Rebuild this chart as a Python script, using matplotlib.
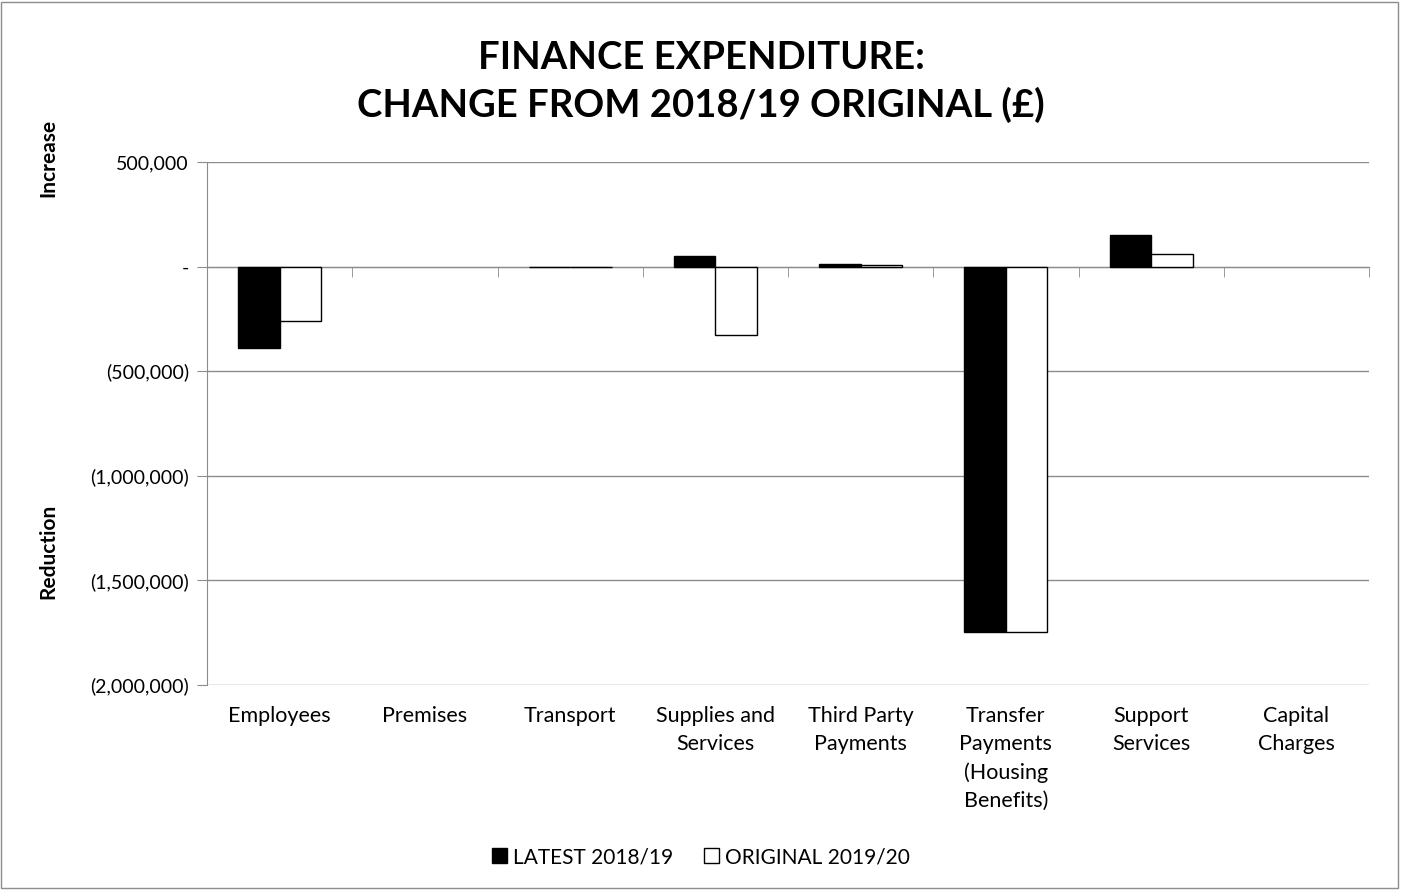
import numpy as np
import matplotlib.pyplot as plt
from matplotlib.patches import Patch, Rectangle
from matplotlib.ticker import FuncFormatter, FixedLocator

plt.rcParams['font.family'] = ['Lato', 'DejaVu Sans']

categories = ["Employees", "Premises", "Transport", "Supplies and\nServices",
              "Third Party\nPayments", "Transfer\nPayments\n(Housing\nBenefits)",
              "Support\nServices", "Capital\nCharges"]
latest_1819 = [-391000, 0, -3000, 52000, 14000, -1747000, 151000, 0]
original_1920 = [-258000, 0, -3000, -325000, 6000, -1747000, 60000, 0]
y_ticks = [500000, 0, -500000, -1000000, -1500000, -2000000]


def money_fmt(v, pos):
    if abs(v) < 1:
        return "-"
    if v < 0:
        return "({:,.0f})".format(-v)
    return "{:,.0f}".format(v)


fig = plt.figure(figsize=(14.02, 8.9), dpi=100)
ax = fig.add_axes([207 / 1402, 1 - 685 / 890, (1369 - 207) / 1402, (685 - 162) / 890])

x = np.arange(len(categories))
w = 1 / 3.5
# no outline for bars that are exactly zero (Excel draws nothing there)
ax.bar(x - w / 2, latest_1819, w, color="black", edgecolor="black",
       linewidth=[1 if v else 0 for v in latest_1819], zorder=3)
ax.bar(x + w / 2, original_1920, w, color="white", edgecolor="black",
       linewidth=[1 if v else 0 for v in original_1920], zorder=3)

ax.set_xlim(-0.5, len(categories) - 0.5)
ax.set_ylim(-2000000, 500000)
ax.set_yticks(y_ticks)
ax.yaxis.set_major_formatter(FuncFormatter(money_fmt))
ax.grid(axis="y", color="#8c8c8c", linewidth=1, zorder=0)
ax.tick_params(axis="y", length=7, color="#8c8c8c", labelsize=14, pad=6)

for s in ["top", "right"]:
    ax.spines[s].set_visible(False)
ax.spines["left"].set_color("#8c8c8c")
ax.spines["bottom"].set_color("#8c8c8c")
ax.spines["bottom"].set_position(("data", 0))
ax.spines["bottom"].set_zorder(2)

ax.xaxis.set_major_locator(FixedLocator(x))
ax.xaxis.set_minor_locator(FixedLocator(np.arange(len(categories) + 1) - 0.5))
ax.tick_params(axis="x", which="major", length=0, labelbottom=False)
ax.tick_params(axis="x", which="minor", length=7, color="#8c8c8c", direction="out")

for i, lab in enumerate(categories):
    ax.text(i, -0.04, lab, transform=ax.get_xaxis_transform(), ha="center", va="top",
            fontsize=15.5, linespacing=1.5)

fig.text(0.5, 1 - 82 / 890, "FINANCE EXPENDITURE:\nCHANGE FROM 2018/19 ORIGINAL (£)",
         ha="center", va="center", fontsize=27.5, fontweight="bold", linespacing=1.4)

fig.text(48 / 1402, 1 - 158 / 890, "Increase", rotation=90, ha="center", va="center",
         fontsize=15, fontweight="bold")
fig.text(48 / 1402, 1 - 551 / 890, "Reduction", rotation=90, ha="center", va="center",
         fontsize=15, fontweight="bold")

handles = [Patch(facecolor="black", edgecolor="black", label="LATEST 2018/19"),
           Patch(facecolor="white", edgecolor="black", label="ORIGINAL 2019/20")]
fig.legend(handles=handles, loc="center", bbox_to_anchor=(0.5, 1 - 857 / 890), ncol=2,
           frameon=False, fontsize=15, handlelength=0.7, handleheight=0.7,
           handletextpad=0.3, columnspacing=1.5)

fig.patches.append(Rectangle((0.001, 0.002), 0.996, 0.996, transform=fig.transFigure,
                             fill=False, edgecolor="#8c8c8c", linewidth=1))

fig.savefig("out.png", dpi=100)
